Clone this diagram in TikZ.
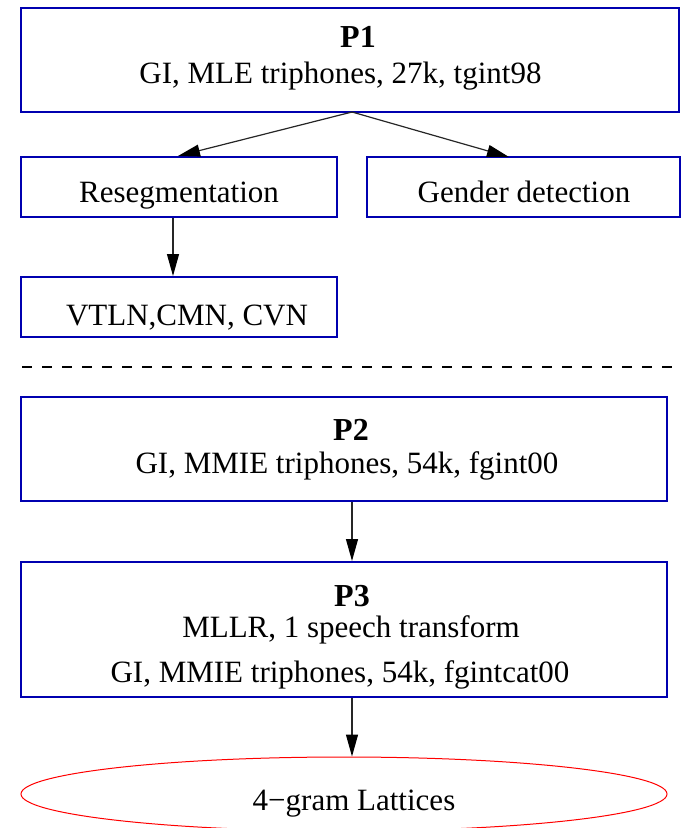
\documentclass[tikz,border=0pt]{standalone}
\usepackage{fontspec}
\setmainfont{Liberation Serif}
\usetikzlibrary{arrows.meta,shapes.geometric}
\definecolor{boxblue}{RGB}{0,0,176}
\definecolor{ellred}{RGB}{255,0,0}
\begin{document}
\begin{tikzpicture}[x=1pt,y=-1pt,
  box/.style={draw=boxblue,line width=2pt,inner sep=0pt},
  txt/.style={anchor=base,inner sep=0pt,font=\fontsize{31}{36}\selectfont},
  btxt/.style={anchor=base,inner sep=0pt,font=\fontsize{32}{36}\selectfont\bfseries},
  arr/.style={draw=black!85,line width=1.2pt,-{Triangle[length=22pt,width=12pt,color=black]}}]
\useasboundingbox (0,0) rectangle (681,828);
% boxes
\node[box,minimum width=658pt,minimum height=104pt] (p1) at (350,60) {};
\node[box,minimum width=316pt,minimum height=60pt] (reseg) at (179,187) {};
\node[box,minimum width=313pt,minimum height=60pt] (gender) at (523.5,187) {};
\node[box,minimum width=316pt,minimum height=60pt] (vtln) at (179,307) {};
\node[box,minimum width=646pt,minimum height=104pt] (p2) at (344,449) {};
\node[box,minimum width=646pt,minimum height=135pt] (p3) at (344,629.5) {};
\node[draw=ellred,line width=1pt,ellipse,minimum width=646pt,minimum height=74pt,inner sep=0pt] (lat) at (344,794) {};
% texts
\node[btxt] (p1a) at (358,47) {P1};
\node[txt] (p1b) at (340.5,83) {GI, MLE triphones, 27k, tgint98};
\node[txt] (rega) at (179,202) {Resegmentation};
\node[txt] (gena) at (524,202) {Gender detection};
\node[txt] (vtla) at (187,325) {VTLN,CMN, CVN};
\node[btxt] (p2a) at (351,440) {P2};
\node[txt] (p2b) at (347,473) {GI, MMIE triphones, 54k, fgint00};
\node[btxt] (p3a) at (352,606) {P3};
\node[txt] (p3b) at (351,637) {MLLR, 1 speech transform};
\node[txt] (p3c) at (340,682) {GI, MMIE triphones, 54k, fgintcat00};
\node[txt] (lata) at (354,810) {4−gram Lattices};
% dashed separator
\coordinate (dl) at (22,367);
\coordinate (dr) at (672,367);
\draw[line width=2pt,dash pattern=on 10pt off 10pt] (dl) -- (dr);
% arrows
\coordinate (p1s) at (352,112);
\coordinate (gtip) at (509,157);
\draw[arr] (p1s) -- (reseg.north -| 178,0);
\draw[arr] (p1s) -- (gtip);
\draw[arr] (reseg.south -| 173,0) -- (vtln.north -| 173,0);
\draw[arr] (p2.south -| 352,0) -- (p3.north -| 352,0);
\draw[arr] (p3.south -| 352,0) -- (lat.north -| 352,0);
\end{tikzpicture}
\end{document}
